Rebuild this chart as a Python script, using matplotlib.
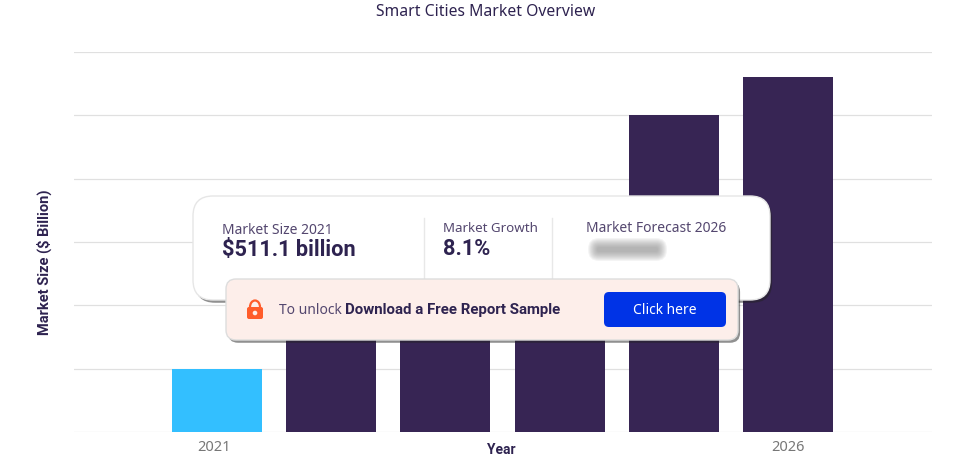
import matplotlib
matplotlib.use("Agg")
import matplotlib.pyplot as plt
import matplotlib.patheffects as pe
from matplotlib.patches import FancyBboxPatch, Arc, Circle
import numpy as np

plt.rcParams['font.family'] = ['Noto Sans', 'DejaVu Sans']

# Data (y axis has no labels, values are in grid steps, middle bars are hidden by the card)
years = ["2021", "", "", "", "", "2026"]
sizes = [1.0, 1.7, 2.5, 3.3, 5.0, 5.6]
bar_colors = ["#33bfff", "#372554", "#372554", "#372554", "#372554", "#372554"]
grid_steps = [0, 1, 2, 3, 4, 5, 6]
tick_years = ["2021", "2026"]
tick_pos = [-0.03, 5]

DARK = "#2e2350"
SOFT = "#54476f"
BOLD = ['Roboto', 'DejaVu Sans']

W, H = 967, 457
fig = plt.figure(figsize=(W / 100, H / 100), dpi=100)
ax = fig.add_axes([74 / W, (H - 432) / H, (932 - 74) / W, (432 - 52) / H])

# Chart
x = np.arange(len(years))
ax.bar(x, sizes, width=0.788, color=bar_colors, zorder=3)
ax.set_xlim(-1.252, 6.26)
ax.set_ylim(0, 6)
ax.set_yticks(grid_steps)
ax.set_yticklabels([])
ax.set_xticks(tick_pos)
ax.set_xticklabels(tick_years, color="#777777", fontsize=10.5)
ax.tick_params(length=0, pad=6)
ax.grid(axis="y", color="#e0e0e0", linewidth=0.9, zorder=0)
for s in ax.spines.values():
    s.set_visible(False)

# Title and axis labels
fig.text(486 / W, 1 - 12 / H, "Smart Cities Market Overview", ha="center", va="center",
         fontsize=11.3, color=DARK)
fig.text(501 / W, 1 - 450 / H, "Year", ha="center", va="center",
         fontsize=10, fontweight="bold", color=DARK, family=BOLD)
fig.text(44 / W, 1 - 262 / H, "Market Size ($ Billion)", rotation=90, ha="center", va="center",
         fontsize=10.5, fontweight="bold", color=DARK, family=BOLD)

# Overlay in pixel coordinates for the promo card
ov = fig.add_axes([0, 0, 1, 1], zorder=5)
ov.set_xlim(0, W)
ov.set_ylim(H, 0)
ov.axis("off")


def box(x0, y0, x1, y1, r, color, edge="none", shadow=False, zorder=1):
    p = FancyBboxPatch((x0, y0), x1 - x0, y1 - y0, boxstyle="round,pad=0,rounding_size=%d" % r,
                       facecolor=color, edgecolor=edge, linewidth=1, zorder=zorder)
    if shadow:
        p.set_path_effects([pe.SimplePatchShadow(offset=(1.5, -2), shadow_rgbFace="#222222", alpha=0.5),
                            pe.Normal()])
    ov.add_patch(p)


# Main card
box(193, 196, 770, 300, 20, "white", edge="#e6e6e6", shadow=True, zorder=1)
ov.plot([424, 424], [218, 279], color="#e8e8e8", lw=1, zorder=2)
ov.plot([552, 552], [218, 279], color="#e8e8e8", lw=1, zorder=2)

ov.text(222, 230, "Market Size 2021", fontsize=10, color=SOFT, va="center", zorder=3)
ov.text(222, 250, "$511.1 billion", fontsize=15.7, fontweight="bold", color=DARK, va="center",
        family=BOLD, zorder=3)
ov.text(443, 228, "Market Growth", fontsize=9.6, color=SOFT, va="center", zorder=3)
ov.text(443, 249, "8.1%", fontsize=15.7, fontweight="bold", color=DARK, va="center",
        family=BOLD, zorder=3)
ov.text(586, 229, "Market Forecast 2026", fontsize=10, color=SOFT, va="center", zorder=3)

# Blurred out forecast value
for grow in range(9, -1, -1):
    box(597 - grow, 247 - grow, 658 + grow, 252 + grow, 2 + grow, "#8a8a8a", zorder=3)
    ov.patches[-1].set_alpha(0.09)

# Banner
box(226, 279, 738, 340, 10, "#fdeeea", edge="#dddddd", shadow=True, zorder=4)
box(604, 292, 726, 327, 5, "#0033e6", zorder=5)
ov.text(279, 311, "To unlock", fontsize=10, color=SOFT, va="center", zorder=5)
ov.text(345, 310, "Download a Free Report Sample", fontsize=10.85, fontweight="bold",
        color=DARK, va="center", family=BOLD, zorder=5)
ov.text(665, 310, "Click here", fontsize=10, color="white", ha="center", va="center", zorder=6)

# Lock icon
box(247, 307, 263, 319, 2, "#ff5c2b", zorder=5)
ov.add_patch(Arc((255, 307), 10, 13, theta1=180, theta2=360, color="#ff5c2b", lw=1.6, zorder=5))
ov.add_patch(Circle((255, 313), 1.6, color="#fdeeea", zorder=6))

plt.savefig("out.png", dpi=100)
